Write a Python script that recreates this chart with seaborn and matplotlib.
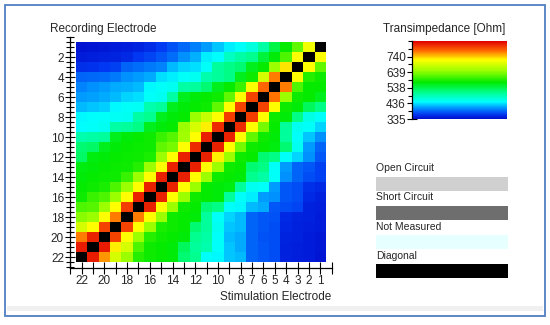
import matplotlib.pyplot as plt
import numpy as np
import pandas as pd
import seaborn as sns
from matplotlib.colors import LinearSegmentedColormap, ListedColormap
from matplotlib.patches import Rectangle
from matplotlib.ticker import FixedLocator

##### data #####
# recording electrodes top -> bottom, stimulation electrodes left -> right
recording = list(range(1, 23))
stimulation = list(range(22, 0, -1))

# transimpedance [Ohm], None = diagonal
transimpedance = [
    [340, 342, 344, 346, 348, 352, 358, 368, 378, 388, 398, 410, 425, 440, 450, 465, 495, 540, 575, 620, 710, None],
    [345, 347, 350, 352, 356, 365, 372, 380, 390, 405, 418, 440, 448, 480, 495, 505, 545, 570, 610, 720, None, 720],
    [360, 362, 365, 370, 385, 390, 395, 400, 420, 430, 435, 450, 500, 510, 520, 560, 575, 650, 730, None, 720, 620],
    [385, 388, 390, 395, 405, 410, 415, 435, 440, 450, 455, 490, 500, 510, 560, 580, 690, 770, None, 720, 590, 580],
    [400, 405, 410, 415, 418, 420, 445, 450, 455, 495, 500, 520, 560, 575, 600, 715, 780, None, 770, 610, 575, 575],
    [410, 412, 415, 420, 430, 435, 450, 455, 495, 560, 570, 575, 580, 620, 720, 800, None, 775, 650, 580, 575, 560],
    [420, 425, 428, 445, 450, 452, 490, 500, 560, 570, 575, 580, 620, 720, 800, None, 800, 720, 580, 570, 530, 510],
    [445, 448, 450, 452, 455, 495, 505, 560, 570, 575, 650, 680, 720, 805, None, 805, 720, 580, 570, 510, 460, 450],
    [448, 450, 455, 495, 500, 510, 560, 570, 575, 650, 690, 725, 815, None, 815, 720, 630, 575, 500, 455, 450, 430],
    [490, 495, 500, 560, 570, 575, 580, 600, 615, 655, 720, 820, None, 820, 720, 620, 580, 570, 500, 450, 425, 405],
    [520, 525, 560, 570, 575, 578, 580, 620, 630, 720, 815, None, 820, 720, 630, 580, 575, 565, 520, 455, 410, 385],
    [525, 565, 570, 575, 578, 580, 585, 650, 720, 820, None, 820, 725, 650, 580, 575, 520, 510, 450, 430, 405, 380],
    [565, 570, 575, 578, 580, 590, 650, 720, 820, None, 820, 720, 650, 580, 575, 520, 510, 450, 410, 385, 380, 370],
    [570, 575, 578, 580, 600, 650, 720, 820, None, 820, 720, 650, 580, 575, 570, 505, 495, 450, 405, 385, 375, 370],
    [575, 580, 585, 610, 650, 720, 820, None, 820, 720, 650, 575, 570, 565, 500, 455, 450, 410, 380, 375, 360, 355],
    [580, 600, 610, 650, 720, 820, None, 820, 720, 650, 580, 575, 570, 500, 450, 440, 410, 405, 380, 375, 355, 350],
    [610, 615, 650, 720, 805, None, 820, 720, 650, 580, 575, 520, 510, 450, 445, 420, 415, 380, 375, 372, 350, 348],
    [640, 650, 720, 770, None, 770, 720, 650, 580, 575, 570, 500, 450, 430, 420, 385, 380, 378, 355, 352, 350, 346],
    [690, 720, 800, None, 800, 720, 650, 585, 580, 575, 520, 500, 455, 425, 420, 385, 380, 376, 354, 350, 348, 345],
    [770, 820, None, 800, 720, 650, 590, 580, 575, 570, 505, 495, 450, 420, 415, 385, 378, 375, 352, 350, 346, 344],
    [825, None, 825, 725, 690, 610, 580, 575, 570, 530, 500, 490, 450, 425, 415, 385, 380, 375, 350, 348, 345, 343],
    [None, 825, 760, 690, 650, 590, 580, 575, 570, 520, 505, 450, 445, 425, 420, 385, 380, 375, 350, 348, 345, 342],
]

x_labelled = [22, 20, 18, 16, 14, 12, 10, 8, 7, 6, 5, 4, 3, 2, 1]
y_labelled = [2, 4, 6, 8, 10, 12, 14, 16, 18, 20, 22]

cbar_min, cbar_max = 335, 841
cbar_ticks = [335, 436, 538, 639, 740]

legend_labels = ['Open Circuit', 'Short Circuit', 'Not Measured', 'Diagonal']
legend_colors = ['#d0d0d0', '#6e6e6e', '#e6ffff', '#000000']

##### styling #####
sns.set_theme(style='white')
plt.rcParams['font.family'] = ['Liberation Sans', 'DejaVu Sans']
plt.rcParams['font.size'] = 8.5

W, H = 550, 325

def fx(px):
    return px / W

def fy(py):
    return 1 - py / H

# blue -> cyan -> green -> yellow -> red, like the instrument software
cmap = LinearSegmentedColormap.from_list('transimp', [
    (0.00, (0.00, 0.05, 0.80)),
    (0.06, (0.00, 0.22, 0.95)),
    (0.14, (0.00, 0.58, 1.00)),
    (0.22, (0.00, 1.00, 1.00)),
    (0.34, (0.00, 1.00, 0.55)),
    (0.47, (0.00, 0.92, 0.00)),
    (0.62, (0.60, 1.00, 0.00)),
    (0.76, (1.00, 1.00, 0.00)),
    (0.88, (1.00, 0.40, 0.00)),
    (1.00, (0.88, 0.00, 0.00)),
])

##### data frames #####
df = pd.DataFrame(transimpedance, index=recording, columns=stimulation, dtype=float)
diag_mask = df.isna()
diag_df = pd.DataFrame(np.where(diag_mask, 1.0, np.nan), index=recording, columns=stimulation)

##### figure #####
fig = plt.figure(figsize=(W / 100, H / 100), dpi=100)
fig.patch.set_facecolor('white')

ax = fig.add_axes([fx(70.3), fy(268), fx(331.6) - fx(70.3), fy(37) - fy(268)])
cax = fig.add_axes([fx(412), fy(119), fx(507) - fx(412), fy(41) - fy(119)])

sns.heatmap(df, ax=ax, cmap=cmap, vmin=cbar_min, vmax=cbar_max, cbar_ax=cax,
            xticklabels=False, yticklabels=False)
sns.heatmap(diag_df, ax=ax, cmap=ListedColormap(['black']), cbar=False,
            mask=~diag_mask, xticklabels=False, yticklabels=False)

ax.set_xlim(-0.5, 22.5)
ax.set_ylim(22.6, -0.5)
ax.set_xlabel('')
ax.set_ylabel('')

# axes lines
for side in ['left', 'bottom']:
    ax.spines[side].set_visible(True)
    ax.spines[side].set_color('black')
    ax.spines[side].set_linewidth(0.9)
for side in ['top', 'right']:
    ax.spines[side].set_visible(False)

# x ticks: every column plus one extra on each end
x_pos = np.arange(-0.5, 23.0, 1.0)
x_txt = [''] + [str(e) if e in x_labelled else '' for e in stimulation] + ['']
ax.set_xticks(x_pos, x_txt)

# y ticks: labelled even rows, minor every half row
y_major = [recording.index(e) + 0.5 for e in y_labelled]
ax.set_yticks(y_major, [str(e) for e in y_labelled])
y_minor = [v for v in np.arange(-0.5, 22.6, 0.5) if v not in y_major]
ax.yaxis.set_minor_locator(FixedLocator(y_minor))

ax.tick_params(axis='x', which='major', direction='inout', length=8, width=0.8,
               color='black', labelsize=8.5, pad=1, bottom=True)
ax.tick_params(axis='y', which='major', direction='inout', length=7, width=0.8,
               color='black', labelsize=8.5, pad=1, left=True, labelrotation=0)
ax.tick_params(axis='y', which='minor', direction='inout', length=6, width=0.8,
               color='black', left=True)

# colour bar
cbar = ax.collections[0].colorbar
cbar.outline.set_visible(False)
cbar.set_ticks(cbar_ticks)
cbar.set_ticklabels([str(t) for t in cbar_ticks])
cax.yaxis.set_ticks_position('left')
cax.yaxis.set_minor_locator(FixedLocator([385.6, 486.8, 588.4, 689.6, 790.4, 841]))
cax.spines['left'].set_visible(True)
cax.spines['left'].set_color('black')
cax.spines['left'].set_linewidth(0.9)
cax.tick_params(which='major', direction='inout', length=7, width=0.8,
                color='black', labelsize=8.5, pad=1, left=True, right=False)
cax.tick_params(which='minor', direction='inout', length=6, width=0.8,
                color='black', left=True, right=False)

# titles
fig.text(fx(50), fy(29), 'Recording Electrode', ha='left', va='center', fontsize=8.5)
fig.text(fx(331), fy(297), 'Stimulation Electrode', ha='right', va='center', fontsize=8.5)
fig.text(fx(444.5), fy(29), 'Transimpedance [Ohm]', ha='center', va='center', fontsize=8.5)

# status legend
text_y = [168, 197, 227, 256]
bar_top = [177, 206, 235, 264]
for label, color, ty, bt in zip(legend_labels, legend_colors, text_y, bar_top):
    fig.text(fx(376), fy(ty), label, ha='left', va='center', fontsize=7.5)
    fig.patches.append(Rectangle((fx(376), fy(bt + 13.5)), fx(508) - fx(376), 13.5 / H,
                                 transform=fig.transFigure, facecolor=color,
                                 edgecolor='none'))

# panel frame
fig.patches.append(Rectangle((fx(7), fy(311)), fx(543) - fx(7), 5 / H,
                             transform=fig.transFigure, facecolor='#f0f0f0',
                             edgecolor='none'))
fig.patches.append(Rectangle((fx(5), fy(316)), fx(545) - fx(5), 311 / H,
                             transform=fig.transFigure, fill=False,
                             edgecolor='#4f7fc0', linewidth=1.3))

fig.savefig('out.png', dpi=100)
